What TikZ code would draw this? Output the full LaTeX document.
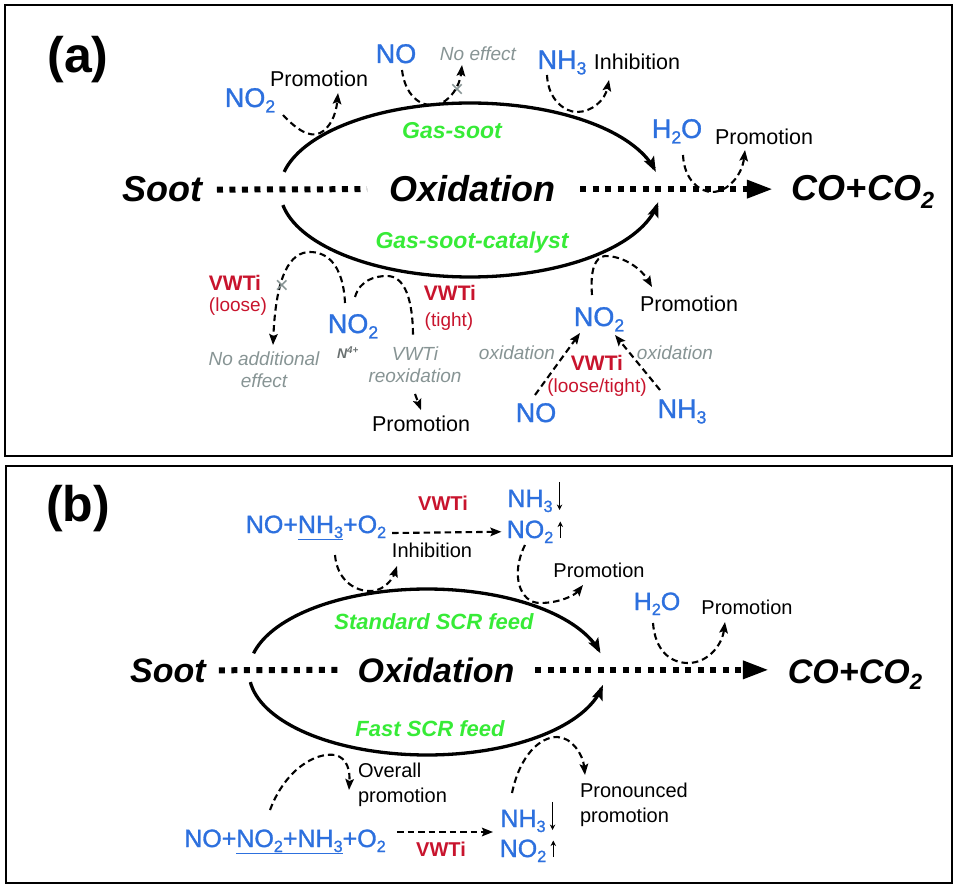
\documentclass[tikz,border=0pt]{standalone}
\usepackage{fontspec}
\setmainfont{Liberation Sans}
\newfontfamily\chemfont[FakeBold=1.2]{Liberation Sans}
\usepackage{graphicx}
\usetikzlibrary{arrows.meta,calc}
\definecolor{cblue}{RGB}{45,112,222}
\definecolor{cgreen}{RGB}{55,235,55}
\definecolor{cred}{RGB}{200,20,45}
\definecolor{cgray}{RGB}{135,148,148}
\definecolor{cdgray}{RGB}{105,112,112}
\newcommand\sbt[1]{\raisebox{-0.2em}{\scalebox{0.65}{#1}}}
\begin{document}
\begin{tikzpicture}[x=1pt,y=-1pt,
 txt/.style={inner sep=0pt, outer sep=0pt},
 bigtxt/.style={txt, font=\fontsize{36}{40}\selectfont\bfseries\itshape},
 bigtxtb/.style={txt, font=\fontsize{34}{38}\selectfont\bfseries\itshape},
 lbltxt/.style={txt, font=\fontsize{50}{56}\selectfont\bfseries},
 chem/.style={txt, text=cblue, font=\chemfont\fontsize{27}{30}\selectfont},
 chemb/.style={txt, text=cblue, font=\chemfont\fontsize{25}{28}\selectfont},
 efftxt/.style={txt, font=\fontsize{21.5}{24}\selectfont},
 efftxtb/.style={txt, font=\fontsize{20}{25}\selectfont, align=left},
 grn/.style={txt, text=cgreen, font=\fontsize{23}{26}\selectfont\bfseries\itshape},
 grnb/.style={txt, text=cgreen, font=\fontsize{22}{26}\selectfont\bfseries\itshape},
 vw/.style={txt, text=cred, font=\fontsize{21}{24}\selectfont\bfseries},
 vwb/.style={txt, text=cred, font=\fontsize{20}{24}\selectfont\bfseries},
 vwn/.style={txt, text=cred, font=\fontsize{19}{22}\selectfont},
 grynote/.style={txt, text=cgray, font=\fontsize{19}{22}\selectfont\itshape, align=center},
 xmark/.style={txt, text=cgray, font=\fontsize{24}{24}\selectfont},
 dsh/.style={line width=2.1pt, dash pattern=on 6.5pt off 4pt, -{Stealth[length=11pt,width=8.5pt,inset=2pt]}},
 dshn/.style={line width=2.1pt, dash pattern=on 6.5pt off 4pt},
 dotline/.style={line width=6pt, dash pattern=on 6pt off 6.5pt},
 bigtip/.style={-{Triangle[length=26pt,width=17pt]}},
 ell/.style={line width=3.3pt, -{Stealth[length=15pt,width=11pt,inset=3pt]}},
 panelbox/.style={line width=2.5pt},
 tinyarr/.style={line width=1.2pt, -{Stealth[length=5.5pt,width=5.5pt]}}
]
\useasboundingbox (0,0) rectangle (957,890);
\draw[panelbox] (5,5) rectangle (952,456);
\draw[panelbox] (6,466) rectangle (952,883);

% ---------------- panel (a) ----------------
\node[lbltxt] (laba) at (78,60) {(a)};
\node[bigtxt, anchor=base] (soota) at (162,202) {Soot};
\node[bigtxt, anchor=base] (oxa) at (472,202) {Oxidation};
\node[bigtxt, anchor=base] (coa) at (863,201) {CO+CO\sbt{2}};
\draw[dotline] ([xshift=15pt]soota.east) -- ([xshift=-22pt]oxa.west);
\draw[dotline,bigtip] ([xshift=25pt]oxa.east) -- ([xshift=-19pt]oxa.east -| coa.west);

\draw[ell] plot[domain=-168:-12, samples=70] ({470+190*cos(\x)},{190+87*sin(\x)});
\draw[ell] plot[domain=-170:-8, samples=70] ({470+190*cos(\x)},{190-87*sin(\x)});
\node[grn] (gsa) at (452,131) {Gas-soot};
\node[grn] (gsca) at (472,243) {Gas-soot-catalyst};

\node[chem, anchor=base] (no2a) at (250,107) {NO\sbt{2}};
\node[efftxt] (prA1) at (319,79) {Promotion};
\node[chem, anchor=base] (noa) at (396,63) {NO};
\node[grynote] (noeff) at (478,54) {No effect};
\node[xmark] (xa1) at (457,91) {×};
\node[chem, anchor=base] (nh3a) at (562,69) {NH\sbt{3}};
\node[efftxt] (inhA) at (637,62) {Inhibition};
\node[chem, anchor=base] (h2oa) at (677,138) {H\sbt{2}O};
\node[efftxt] (prA2) at (764,137) {Promotion};

\coordinate (p1s) at (283,115); \coordinate (p1e) at (338,93);
\draw[dsh] (p1s) .. controls (297,130) and (310,138) .. (320,133) .. controls (330,128) and (336,115) .. (p1e);
\coordinate (p2s) at (402,70); \coordinate (p2e) at (462,65);
\draw[dsh] (p2s) .. controls (405,95) and (420,107) .. (435,105) .. controls (450,103) and (460,85) .. (p2e);
\coordinate (p3s) at (547,75); \coordinate (p3e) at (609,80);
\draw[dsh] (p3s) .. controls (548,100) and (565,112) .. (577,112) .. controls (592,112) and (605,100) .. (p3e);
\coordinate (p4s) at (683,155); \coordinate (p4e) at (745,150);
\draw[dsh] (p4s) .. controls (684,180) and (700,192) .. (712,192) .. controls (728,192) and (742,175) .. (p4e);

% lower left
\node[vw] (vwl) at (235,283) {VWTi};
\node[vwn] (loose) at (238,307) {(loose)};
\node[chem, anchor=base] (no2l) at (353,333) {NO\sbt{2}};
\node[txt, text=cdgray, font=\fontsize{14}{15}\selectfont\bfseries\itshape] (n4) at (348,353) {N\textsuperscript{4+}};
\node[vw] (vwt) at (450,293) {VWTi};
\node[vwn] (tight) at (449,322) {(tight)};
\node[grynote] (noadd) at (264,370) {No additional\\effect};
\node[grynote] (reox) at (415,365) {VWTi\\reoxidation};
\node[efftxt] (prA3) at (421,424) {Promotion};

\coordinate (p5s) at (345,303); \coordinate (p5e) at (273,345);
\draw[dsh] (p5s) .. controls (343,262) and (325,252) .. (310,252) .. controls (290,252) and (276,275) .. (p5e);
\node[xmark] (xa2) at (282,287) {×};
\coordinate (p6s) at (355,297); \coordinate (p6e) at (413,337);
\draw[dshn] (p6s) .. controls (360,280) and (375,276) .. (387,276) .. controls (405,276) and (413,300) .. (p6e);
\draw[dsh] ([yshift=-11pt]reox.south) -- ([yshift=6pt]prA3.north);

% lower right
\node[efftxt] (prA4) at (689,304) {Promotion};
\node[chem, anchor=base] (no2r) at (599,326) {NO\sbt{2}};
\node[grynote] (oxl) at (517,353) {oxidation};
\node[grynote] (oxr) at (675,353) {oxidation};
\node[vw] (vwlt) at (597,363) {VWTi};
\node[vwn] (lt) at (597,388) {(loose/tight)};
\node[chem, anchor=base] (nor) at (536,422) {NO};
\node[chem, anchor=base] (nh3r) at (682,418) {NH\sbt{3}};

\coordinate (p8s) at (592,295); \coordinate (p8e) at (652,287);
\draw[dsh] (p8s) .. controls (590,270) and (595,257) .. (605,256) .. controls (625,256) and (642,270) .. (p8e);
\coordinate (p9s) at (535,395); \coordinate (p9e) at (580,333);
\draw[dsh] (p9s) -- (p9e);
\coordinate (p10s) at (660,390); \coordinate (p10e) at (615,335);
\draw[dsh] (p10s) -- (p10e);

% ---------------- panel (b) ----------------
\node[lbltxt] (labb) at (78,509) {(b)};
\node[bigtxtb, anchor=base] (sootb) at (168,682) {Soot};
\node[bigtxtb, anchor=base] (oxb) at (436,682) {Oxidation};
\node[bigtxtb, anchor=base] (cob) at (855,683) {CO+CO\sbt{2}};
\draw[dotline] ([xshift=13pt]sootb.east) -- ([xshift=-14pt]oxb.west);
\draw[dotline,bigtip] ([xshift=21pt]oxb.east) -- ([xshift=-19pt]oxb.east -| cob.west);

\draw[ell] plot[domain=-167:-13, samples=70] ({427+178*cos(\x)},{672+83*sin(\x)});
\draw[ell] plot[domain=-173:-9, samples=70] ({427+178*cos(\x)},{672-83*sin(\x)});
\node[grnb] (std) at (434,622) {Standard SCR feed};
\node[grnb] (fast) at (430,729) {Fast SCR feed};

\node[chemb, anchor=base] (feed1) at (316,533) {NO+\underline{NH\sbt{3}}+O\sbt{2}};
\node[vwb] (vwb1) at (443,503) {VWTi};
\node[chemb, anchor=base] (nh3b) at (530,507) {NH\sbt{3}};
\node[chemb, anchor=base] (no2b) at (530,538) {NO\sbt{2}};
\draw[tinyarr] ([xshift=7pt,yshift=8pt]nh3b.north east) -- ([xshift=7pt,yshift=-3pt]nh3b.north east |- nh3b.base);
\draw[tinyarr] ([xshift=7pt]no2b.base east) -- ([xshift=7pt,yshift=-1pt]no2b.north east);
\node[efftxtb] (inhB) at (432,550) {Inhibition};
\node[efftxtb] (prB1) at (599,570) {Promotion};
\node[chemb, anchor=base] (h2ob) at (657,610) {H\sbt{2}O};
\node[efftxtb] (prB2) at (747,607) {Promotion};

\draw[dsh] ([xshift=6pt]feed1.east |- feed1.base) -- ([xshift=-6pt]nh3b.west |- no2b.west);

\coordinate (q1s) at (335,555); \coordinate (q1e) at (397,566);
\draw[dsh] (q1s) .. controls (337,580) and (355,592) .. (372,591) .. controls (385,590) and (393,578) .. (q1e);
\coordinate (q2s) at (525,545); \coordinate (q2e) at (583,585);
\draw[dsh] (q2s) .. controls (510,575) and (520,603) .. (540,603) .. controls (560,603) and (575,595) .. (q2e);
\coordinate (q3s) at (653,623); \coordinate (q3e) at (725,622);
\draw[dsh] (q3s) .. controls (655,650) and (670,663) .. (688,663) .. controls (708,663) and (722,645) .. (q3e);

\node[efftxtb, anchor=west] (ovr) at (358,785) {Overall\\promotion};
\node[efftxtb, anchor=west] (pron) at (580,805) {Pronounced\\promotion};
\node[chemb, anchor=base] (feed2) at (285,847) {NO+\underline{NO\sbt{2}+NH\sbt{3}}+O\sbt{2}};
\node[vwb] (vwb2) at (441,849) {VWTi};
\node[chemb, anchor=base] (nh3c) at (523,827) {NH\sbt{3}};
\node[chemb, anchor=base] (no2c) at (523,857) {NO\sbt{2}};
\draw[tinyarr] ([xshift=7pt,yshift=8pt]nh3c.north east) -- ([xshift=7pt,yshift=-3pt]nh3c.north east |- nh3c.base);
\draw[tinyarr] ([xshift=7pt]no2c.base east) -- ([xshift=7pt,yshift=-1pt]no2c.north east);
\coordinate (q6s) at (397,832); \coordinate (q6e) at (493,832);
\draw[dsh] (q6s) -- (q6e);

\coordinate (q4s) at (270,810); \coordinate (q4e) at (349,790);
\draw[dsh] (q4s) .. controls (285,770) and (315,752) .. (335,755) .. controls (348,758) and (350,772) .. (q4e);
\coordinate (q5s) at (512,793); \coordinate (q5e) at (585,775);
\draw[dsh] (q5s) .. controls (520,755) and (540,737) .. (557,737) .. controls (572,737) and (583,755) .. (q5e);
\end{tikzpicture}
\end{document}
